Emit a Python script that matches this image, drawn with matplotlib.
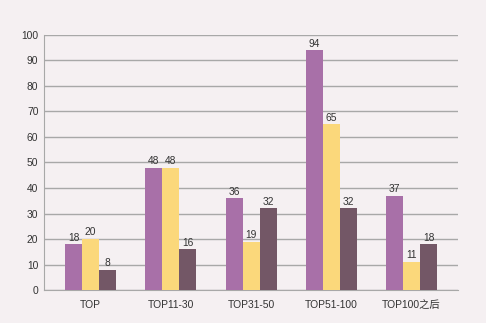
import numpy as np
import matplotlib
matplotlib.use("Agg")
from matplotlib import pyplot as plt

plt.rcParams['font.family'] = ['Liberation Sans', 'Noto Sans CJK SC', 'DejaVu Sans']

categories = ['TOP', 'TOP11-30', 'TOP31-50', 'TOP51-100', 'TOP100之后']
series_a = [18, 48, 36, 94, 37]
series_b = [20, 48, 19, 65, 11]
series_c = [8, 16, 32, 32, 18]

colors = ['#a870a8', '#fbd87b', '#735766']
bg = '#f5f0f2'

fig = plt.figure(figsize=(4.86, 3.23), dpi=100, facecolor=bg)
ax = fig.add_axes([0.0905, 0.102, 0.852, 0.790], facecolor=bg)

x = np.arange(len(categories))
w = 0.212
for i, (vals, c) in enumerate(zip([series_a, series_b, series_c], colors)):
    pos = x + (i - 1) * w
    ax.bar(pos, vals, w, color=c, zorder=3)
    for p, v in zip(pos, vals):
        ax.text(p, v + 0.6, str(v), ha='center', va='bottom', fontsize=7.4, color='#333333', zorder=4)

ax.set_xlim(-0.58, 4.58)
ax.set_ylim(0, 100)
ax.set_yticks(range(0, 101, 10))
ax.set_xticks(x)
ax.set_xticklabels(categories)
ax.yaxis.grid(True, color='#a8a8a8', linewidth=1, zorder=0)
ax.tick_params(axis='both', length=0, labelsize=7.4, colors='#333333')
ax.tick_params(axis='x', pad=7)
ax.tick_params(axis='y', pad=4)
for s in ['top', 'right']:
    ax.spines[s].set_visible(False)
ax.spines['left'].set_color('#a8a8a8')
ax.spines['bottom'].set_color('#a8a8a8')

fig.savefig('out.png', dpi=100, facecolor=bg)
